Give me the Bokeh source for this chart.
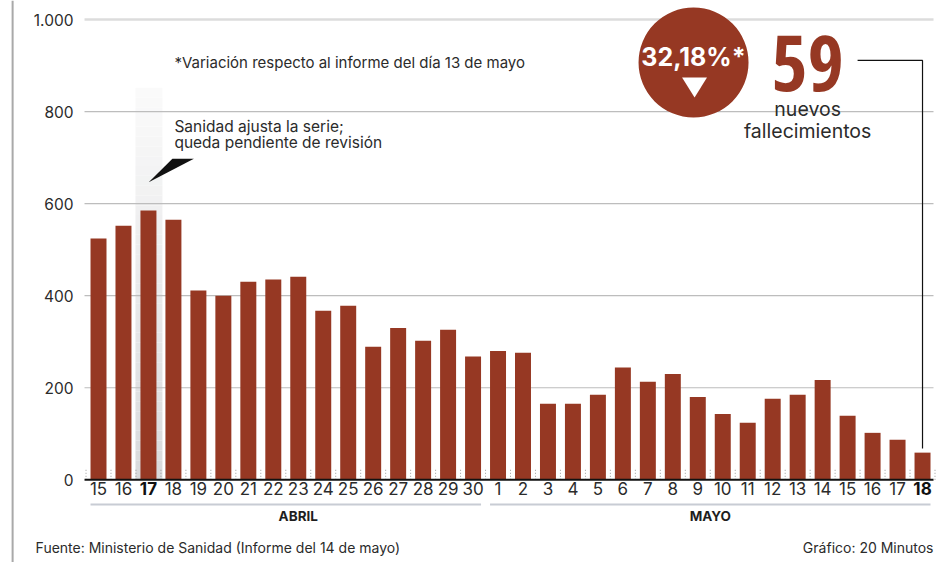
import numpy as np
from bokeh.plotting import figure
from bokeh.models import Range1d, LinearAxis, FixedTicker
from bokeh.core.properties import value
from bokeh.embed import file_html
from bokeh.resources import INLINE

# ---------------- data ----------------
dias_abril = ["15", "16", "17", "18", "19", "20", "21", "22", "23", "24",
              "25", "26", "27", "28", "29", "30"]
dias_mayo = ["1", "2", "3", "4", "5", "6", "7", "8", "9", "10", "11", "12",
             "13", "14", "15", "16", "17", "18"]
fallecidos_abril = [524, 552, 585, 565, 411, 400, 430, 435, 441, 367, 378,
                    289, 330, 302, 326, 268]
fallecidos_mayo = [280, 276, 165, 165, 185, 244, 213, 230, 180, 143, 124,
                   176, 185, 217, 139, 102, 87, 59]
meses = ["ABRIL", "MAYO"]
y_ticks = [0, 200, 400, 600, 800, 1000]
y_tick_labels = ["0", "200", "400", "600", "800", "1.000"]
variacion = "32,18%*"
nuevos = "59"

# ---------------- helpers ----------------
labels = dias_abril + dias_mayo
values = fallecidos_abril + fallecidos_mayo
n = len(labels)
idx = np.arange(n)
hl = 2              # 17 de abril (serie ajustada)
last = n - 1        # último día
bold_idx = [hl, last]
normal_idx = [i for i in range(n) if i not in bold_idx]

FONT = "Inter"
BAR = "#963823"
TXT = "#2b2b2b"

p = figure(width=936, height=562,
           x_range=Range1d(-3.925, 33.56), y_range=Range1d(-179.7, 1041.3),
           output_backend="svg", toolbar_location=None, min_border=0,
           x_axis_type=None, y_axis_type=None)
p.outline_line_color = None
p.background_fill_color = "white"
p.border_fill_color = "white"

# left grey rule of the page
p.segment(x0=[-3.44], y0=[-179.7], x1=[-3.44], y1=[1041.3],
          line_color="#a9a9a9", line_width=2)

# highlight band (vertical gradient) behind bar 17
band_top = 852
nb = 40
edges = np.linspace(0, band_top, nb + 1)
c0 = np.array([0xd9, 0xda, 0xdc])
c1 = np.array([0xfb, 0xfb, 0xfb])
cols = []
for k in range(nb):
    t = (k + 0.5) / nb
    c = (c0 + (c1 - c0) * t).astype(int)
    cols.append("#%02x%02x%02x" % tuple(c))
p.quad(left=hl - 0.52, right=hl + 0.56, bottom=edges[:-1], top=edges[1:],
       fill_color=cols, line_color=None)

# gridlines
x_lo, x_hi = -0.56, 33.44
g_y = y_ticks[1:]
g_col = ["#bdbdbd"] * (len(g_y) - 1) + ["#dcdcdc"]
g_w = [1.2] * (len(g_y) - 1) + [2.5]
p.segment(x0=[x_lo] * len(g_y), y0=g_y, x1=[x_hi] * len(g_y), y1=g_y,
          line_color=g_col, line_width=g_w)

# bars
p.vbar(x=idx, top=values, width=0.64, fill_color=BAR, line_color=None)

# dotted separators at the base
sep = np.arange(-0.5, n, 1.0)
p.segment(x0=sep, y0=[0] * len(sep), x1=sep, y1=[26] * len(sep),
          line_color="#9a9a9a", line_width=1, line_dash="1 2")

# baseline
p.segment(x0=[x_lo], y0=[0], x1=[x_hi], y1=[0], line_color="#111111", line_width=2)

# y axis (fixed at plot left edge)
yax = LinearAxis(fixed_location=x_lo, ticker=FixedTicker(ticks=y_ticks),
                 major_label_overrides={t: l for t, l in zip(y_ticks, y_tick_labels)},
                 axis_line_color=None, major_tick_line_color=None,
                 minor_tick_line_color=None, major_label_standoff=5,
                 major_label_text_font=FONT, major_label_text_font_size="15.5px",
                 major_label_text_color=TXT)
p.add_layout(yax, "left")

# x labels: regular + bold
lab_loc = 14
xax = LinearAxis(fixed_location=lab_loc, ticker=FixedTicker(ticks=normal_idx),
                 major_label_overrides={int(i): labels[i] for i in normal_idx},
                 axis_line_color=None, major_tick_line_color=None,
                 minor_tick_line_color=None, major_label_standoff=3,
                 major_label_text_font=FONT, major_label_text_font_size="17px",
                 major_label_text_color=TXT)
p.add_layout(xax, "below")
xax_b = LinearAxis(fixed_location=lab_loc, ticker=FixedTicker(ticks=bold_idx),
                   major_label_overrides={int(i): labels[i] for i in bold_idx},
                   axis_line_color=None, major_tick_line_color=None,
                   minor_tick_line_color=None, major_label_standoff=3,
                   major_label_text_font=FONT, major_label_text_font_size="17px",
                   major_label_text_font_style="bold",
                   major_label_text_color="#111111")
p.add_layout(xax_b, "below")

# month brackets
n_ab = len(dias_abril)
br_y = -53.7
p.segment(x0=[-0.32, n_ab - 0.32], y0=[br_y, br_y],
          x1=[n_ab - 1 + 0.32, last + 0.32], y1=[br_y, br_y],
          line_color="#c8ccd4", line_width=2)
p.text(x=[8.0, (n_ab + last) / 2], y=[-79.6, -79.6], text=meses,
       text_font=value(FONT), text_font_size="13.5px", text_font_style="bold",
       text_color="#1e1e1e", text_align="center", text_baseline="middle")

# footer
p.text(x=[-2.52], y=[-147], text=["Fuente: Ministerio de Sanidad (Informe del 14 de mayo)"],
       text_font=value(FONT), text_font_size="14px", text_color=TXT,
       text_align="left", text_baseline="middle")
p.text(x=[33.44], y=[-147], text=["Gráfico: 20 Minutos"],
       text_font=value(FONT), text_font_size="14px", text_color=TXT,
       text_align="right", text_baseline="middle")

# notes
p.text(x=[3.04], y=[906.6], text=["*Variación respecto al informe del día 13 de mayo"],
       text_font=value(FONT), text_font_size="15px", text_color=TXT,
       text_align="left", text_baseline="middle")
p.text(x=[3.04, 3.04], y=[(479.3 - 125.7) / 0.4603, (479.3 - 141.7) / 0.4603],
       text=["Sanidad ajusta la serie;", "queda pendiente de revisión"],
       text_font=value(FONT), text_font_size="15.5px", text_color=TXT,
       text_align="left", text_baseline="middle")

# pointer wedge toward bar 17
p.patch(x=[hl + 0.01, hl + 0.96, hl + 1.82], y=[646.5, 697.4, 697.4],
        fill_color="#111111", line_color=None)

# circle with variation
cx, cy = 23.83, 906.6
p.scatter(x=[cx], y=[cy], size=110, marker="circle", fill_color=BAR, line_color=None)
p.text(x=[cx], y=[918], text=[variacion], text_font=value(FONT),
       text_font_size="25px", text_font_style="bold", text_color="white",
       text_align="center", text_baseline="middle")
p.patch(x=[cx - 0.46, cx + 0.54, cx + 0.04], y=[874, 874, 830.5],
        fill_color="white", line_color=None)

# big number
p.text(x=[28.4], y=[906], text=[nuevos],
       text_font=value("'Open Sans Condensed', 'Roboto Condensed', 'Noto Sans ExtraCondensed', "
                       "'Liberation Sans Narrow', 'DejaVu Sans Condensed', sans-serif"),
       text_font_size="78px", text_font_style="bold", text_color=BAR,
       text_align="center", text_baseline="middle")
p.text(x=[28.4, 28.4], y=[(479.3 - 108.6) / 0.4603, (479.3 - 130.6) / 0.4603],
       text=["nuevos", "fallecimientos"],
       text_font=value(FONT), text_font_size="19.5px", text_color=TXT,
       text_align="center", text_baseline="middle")

# connector line to last bar
p.line(x=[30.4, last, last], y=[911, 911, values[last] + 9],
       line_color="#111111", line_width=1.2)

open("out.html", "w").write(file_html(p, INLINE))
